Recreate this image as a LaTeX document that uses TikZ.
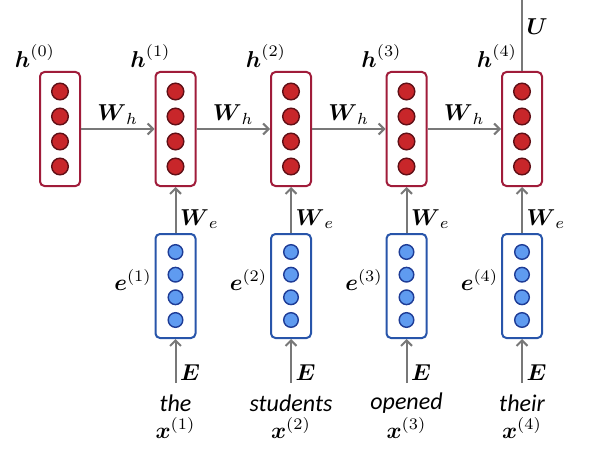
\documentclass[tikz,border=0pt]{standalone}
\usepackage{amsmath}
\usepackage{fontspec}
\newfontfamily\wordfont{Carlito}
\usetikzlibrary{positioning,arrows.meta}

\definecolor{hborder}{RGB}{160,28,58}
\definecolor{hfill}{RGB}{200,38,42}
\definecolor{hedge}{RGB}{95,15,22}
\definecolor{eborder}{RGB}{40,85,170}
\definecolor{efill}{RGB}{95,155,240}
\definecolor{eedge}{RGB}{30,60,150}
\definecolor{linkgray}{RGB}{120,120,120}

\tikzset{
  hbox/.style={draw=hborder, line width=2pt, rounded corners=4.5pt, fill=white,
    minimum width=40pt, minimum height=114pt, inner sep=0pt},
  ebox/.style={draw=eborder, line width=2pt, rounded corners=4.5pt, fill=white,
    minimum width=40pt, minimum height=104pt, inner sep=0pt},
  hunit/.style={fill=hfill, draw=hedge, line width=1.4pt},
  eunit/.style={fill=efill, draw=eedge, line width=1.4pt},
  link/.style={draw=linkgray, line width=2pt, -{Straight Barb[length=5.5pt,width=11pt]}},
  lab/.style={scale=2.3, inner sep=1pt},
  word/.style={font=\wordfont\itshape\fontsize{24}{28}\selectfont, inner sep=0pt}
}

\begin{document}
\begin{tikzpicture}[x=1pt,y=-1pt]
\useasboundingbox (0,0) rectangle (592,452);

% hidden states
\foreach \i/\x in {0/60,1/175.5,2/291,3/406.5,4/522}{
  \node[hbox] (h\i) at (\x,129) {};
  \foreach \dy in {-37.5,-12.5,12.5,37.5}
    \draw[hunit] (\x,129+\dy) circle [radius=8.3pt];
  \node[lab, anchor=south] at ([xshift=-4pt,yshift=1pt]h\i.north west) {$\boldsymbol{h}^{(\i)}$};
}

% recurrence
\foreach \a/\b in {0/1,1/2,2/3,3/4}
  \draw[link] (h\a) -- node[lab, above] {$\boldsymbol{W}_h$} (h\b);

% embeddings and words
\foreach \i/\x/\w in {1/175.5/the,2/291/students,3/406.5/opened,4/522/their}{
  \node[ebox] (e\i) at (\x,286) {};
  \foreach \dy in {-34,-11.3,11.3,34}
    \draw[eunit] (\x,286+\dy) circle [radius=7.3pt];
  \node[lab, anchor=east] at ([yshift=6pt]e\i.west) {$\boldsymbol{e}^{(\i)}$};
  \draw[link] (e\i) -- node[lab, right, yshift=-4pt] {$\boldsymbol{W}_e$} (h\i);
  \coordinate (in\i) at (\x,383);
  \draw[link] (in\i) -- node[lab, right, yshift=-5pt] {$\boldsymbol{E}$} (e\i);
  \node[word] (w\i) at (\x,403) {\w};
  \node[lab] (x\i) at (\x,428) {$\boldsymbol{x}^{(\i)}$};
}

% output
\coordinate (top) at (522,0);
\draw[link, -] (h4) -- node[lab, right, pos=0.62] {$\boldsymbol{U}$} (top);
\end{tikzpicture}
\end{document}
